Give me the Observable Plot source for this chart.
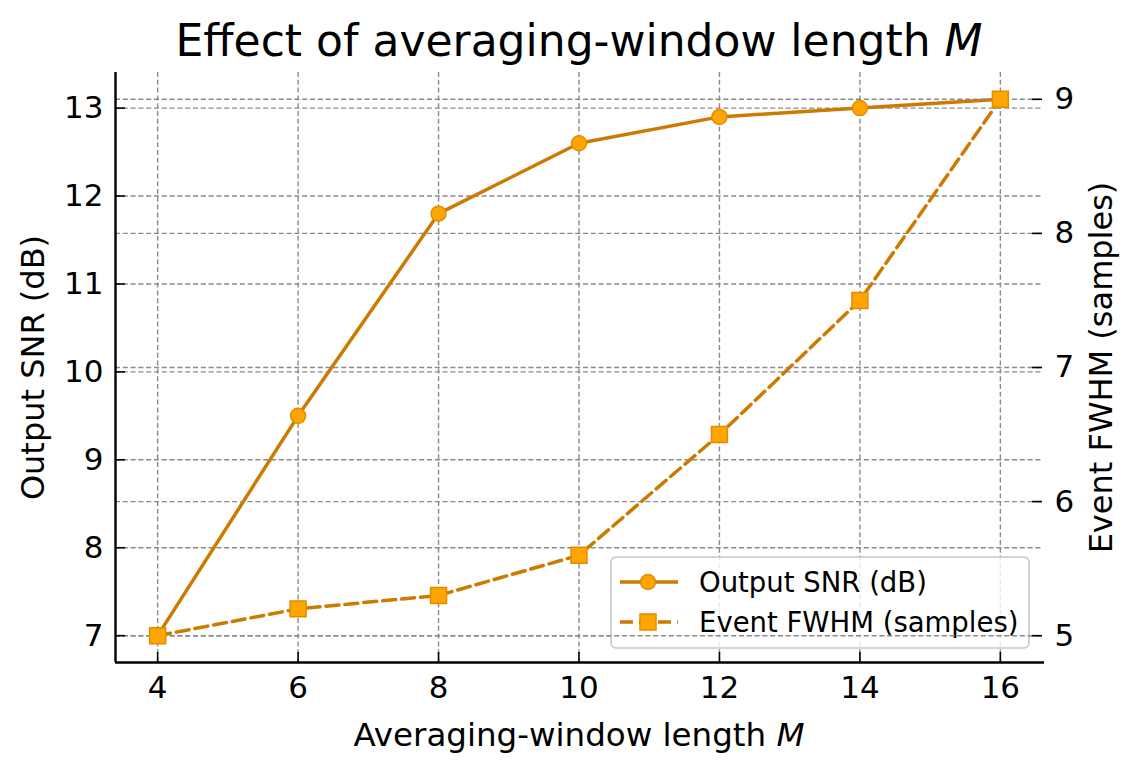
<!DOCTYPE html>
<html>
<head>
<meta charset="utf-8">
<script src="https://cdn.jsdelivr.net/npm/d3@7"></script>
<script src="https://cdn.jsdelivr.net/npm/@observablehq/plot@0.6"></script>
<style>
  body { margin: 0; background: #fff; }
  #chart { width: 1137px; height: 772px; }
</style>
</head>
<body>
<div id="chart"></div>
<script>
// ---- data ----
const M = [4, 6, 8, 10, 12, 14, 16];
const snrDb = [7.0, 9.5, 11.8, 12.6, 12.9, 13.0, 13.1];
const fwhmSamples = [5.0, 5.2, 5.3, 5.6, 6.5, 7.5, 9.0];
const xTicks = [4, 6, 8, 10, 12, 14, 16];
const snrTicks = [7, 8, 9, 10, 11, 12, 13];
const fwhmTicks = [5, 6, 7, 8, 9];
const xDomain = [3.4, 16.6];
const snrDomain = [6.695, 13.405];
const fwhmDomain = [4.8, 9.2];
const seriesNames = ["Output SNR (dB)", "Event FWHM (samples)"];
const titleText = "Effect of averaging-window length M";
const xLabel = "Averaging-window length M";
const yLabelLeft = "Output SNR (dB)";
const yLabelRight = "Event FWHM (samples)";

// ---- style ----
const lineColor = "#cc7a00";
const fillColor = "#ffa500";
const edgeColor = "#e08e00";
const gridColor = "#8a8a8a";
const font = "DejaVu Sans";
const W = 1137, H = 772, mL = 115, mR = 95, mT = 72, mB = 110;
const plotW = W - mL - mR, plotH = H - mT - mB;

// map right-axis values into left-axis units
const toLeft = d3.scaleLinear().domain(fwhmDomain).range(snrDomain);

const snrData = M.map((m, i) => ({m, v: snrDb[i]}));
const fwhmData = M.map((m, i) => ({m, v: toLeft(fwhmSamples[i])}));

const grid = {stroke: gridColor, strokeOpacity: 1, strokeWidth: 1.4, strokeDasharray: "5,2.8"};
const txt = {fill: "#000", fontFamily: font};

function legendMark(index, scales, values, dimensions) {
  const {width, height, marginRight, marginBottom} = dimensions;
  const bw = 418, bh = 91;
  const x0 = width - marginRight - 13 - bw;
  const y0 = height - marginBottom - 14 - bh;
  const g = d3.create("svg:g").attr("transform", `translate(${x0},${y0})`);
  g.append("rect").attr("x", 0).attr("y", 0).attr("width", bw).attr("height", bh)
    .attr("rx", 5).attr("fill", "#fff").attr("fill-opacity", 0.8)
    .attr("stroke", "#c8c8c8").attr("stroke-width", 1.6);
  const rows = [25, 65];
  seriesNames.forEach((name, i) => {
    const y = rows[i];
    g.append("line").attr("x1", 9).attr("x2", 67).attr("y1", y).attr("y2", y)
      .attr("stroke", lineColor).attr("stroke-width", 3.5)
      .attr("stroke-dasharray", i === 0 ? null : "13,6");
    if (i === 0) {
      g.append("circle").attr("cx", 37).attr("cy", y).attr("r", 7.5)
        .attr("fill", fillColor).attr("stroke", edgeColor).attr("stroke-width", 1.5);
    } else {
      g.append("rect").attr("x", 37 - 8).attr("y", y - 8).attr("width", 16).attr("height", 16)
        .attr("fill", fillColor).attr("stroke", edgeColor).attr("stroke-width", 1.5);
    }
    g.append("text").attr("x", 88).attr("y", y).attr("dy", "0.36em")
      .attr("text-anchor", "start")
      .attr("font-family", font).attr("font-size", 27.5).attr("fill", "#000")
      .text(name);
  });
  return g.node();
}

const chart = Plot.plot({
  width: W, height: H,
  marginLeft: mL, marginRight: mR, marginTop: mT, marginBottom: mB,
  style: {fontFamily: font, background: "#fff", overflow: "visible"},
  x: {domain: xDomain, axis: null},
  y: {domain: snrDomain, axis: null},
  marks: [
    // primary-axis grid
    Plot.ruleX(xTicks, {x: d => d, ...grid}),
    Plot.ruleY(snrTicks, {y: d => d, ...grid}),
    // SNR series
    Plot.line(snrData, {x: "m", y: "v", stroke: lineColor, strokeWidth: 3.5}),
    Plot.dot(snrData, {x: "m", y: "v", r: 7.5, fill: fillColor, stroke: edgeColor, strokeWidth: 1.5}),
    // legend
    legendMark,
    // secondary-axis grid
    Plot.ruleY(fwhmTicks, {y: toLeft, ...grid}),
    // FWHM series
    Plot.line(fwhmData, {x: "m", y: "v", stroke: lineColor, strokeWidth: 3.5, strokeDasharray: "13,6"}),
    Plot.dot(fwhmData, {x: "m", y: "v", symbol: "square", r: 9, fill: fillColor, stroke: edgeColor, strokeWidth: 1.5}),
    // spines
    Plot.ruleX([xDomain[0]], {x: d => d, stroke: "#000", strokeWidth: 2.4}),
    Plot.ruleY([snrDomain[0]], {y: d => d, stroke: "#000", strokeWidth: 2.4, insetRight: -2}),
    // inward ticks
    Plot.tickY(snrTicks, {y: d => d, insetRight: plotW - 10, stroke: "#000", strokeWidth: 1.6}),
    Plot.tickY(fwhmTicks, {y: toLeft, insetLeft: plotW - 10, stroke: "#000", strokeWidth: 1.6}),
    Plot.tickX(xTicks, {x: d => d, insetTop: plotH - 10, stroke: "#000", strokeWidth: 1.6}),
    // tick labels
    Plot.text(snrTicks, {y: d => d, text: d => String(d), frameAnchor: "left", textAnchor: "end", dx: -12, fontSize: 31, ...txt}),
    Plot.text(fwhmTicks, {y: toLeft, text: d => String(d), frameAnchor: "right", textAnchor: "start", dx: 12, fontSize: 31, ...txt}),
    Plot.text(xTicks, {x: d => d, text: d => String(d), frameAnchor: "bottom", lineAnchor: "bottom", dy: 35, fontSize: 31, ...txt}),
    // labels & title
    Plot.text([titleText], {frameAnchor: "top", lineAnchor: "bottom", textAnchor: "middle", dy: -17, fontSize: 44, ...txt}),
    Plot.text([xLabel], {frameAnchor: "bottom", lineAnchor: "bottom", textAnchor: "middle", dy: 83, fontSize: 32.5, ...txt}),
    Plot.text([yLabelLeft], {frameAnchor: "left", textAnchor: "middle", dx: -82, rotate: -90, fontSize: 32, ...txt}),
    Plot.text([yLabelRight], {frameAnchor: "right", textAnchor: "middle", dx: 59, rotate: -90, fontSize: 32, ...txt})
  ]
});

// italicise the trailing variable name M
d3.select(chart).selectAll("text").each(function () {
  const t = this.textContent;
  if ((t === titleText || t === xLabel) && this.childElementCount === 0) {
    const base = t.slice(0, -1);
    d3.select(this).text(base).append("tspan").attr("font-style", "italic").text("M");
  }
});

document.getElementById("chart").appendChild(chart);
</script>
</body>
</html>
